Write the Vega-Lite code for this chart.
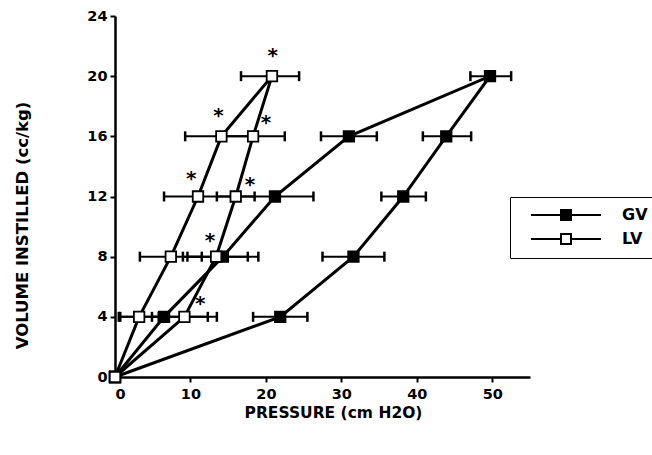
{
  "$schema": "https://vega.github.io/schema/vega-lite/v6.json",
  "width": 415,
  "height": 361,
  "autosize": {"type": "none"},
  "padding": {"left": 115, "top": 16, "right": 122, "bottom": 78},
  "background": "white",
  "config": {
    "view": {"stroke": null},
    "font": "DejaVu Sans",
    "axis": {
      "domainColor": "black", "domainWidth": 2.5, "tickColor": "black", "tickWidth": 2, "tickSize": 5,
      "labelFont": "DejaVu Sans", "labelFontWeight": "bold", "labelFontSize": 14.5, "labelColor": "black",
      "titleFont": "DejaVu Sans", "titleFontWeight": "bold", "titleColor": "black", "grid": false
    }
  },
  "datasets": {
    "pts": [
      {"series": "GV", "step": 0, "p": 0, "v": 0},
      {"series": "GV", "step": 1, "p": 21.9, "v": 4, "lo": 18.3, "hi": 25.5},
      {"series": "GV", "step": 2, "p": 31.6, "v": 8, "lo": 27.5, "hi": 35.7},
      {"series": "GV", "step": 3, "p": 38.2, "v": 12, "lo": 35.3, "hi": 41.2},
      {"series": "GV", "step": 4, "p": 43.9, "v": 16, "lo": 40.8, "hi": 47.2},
      {"series": "GV", "step": 5, "p": 49.7, "v": 20, "lo": 47.1, "hi": 52.5},
      {"series": "GV", "step": 6, "p": 31.0, "v": 16, "lo": 27.3, "hi": 34.7},
      {"series": "GV", "step": 7, "p": 21.2, "v": 12, "lo": 16.1, "hi": 26.3},
      {"series": "GV", "step": 8, "p": 14.3, "v": 8, "lo": 9.6, "hi": 19.0},
      {"series": "GV", "step": 9, "p": 6.5, "v": 4, "lo": 0.7, "hi": 12.3},
      {"series": "GV", "step": 10, "p": 0, "v": 0},
      {"series": "LV", "step": 0, "p": 0, "v": 0},
      {"series": "LV", "step": 1, "p": 9.2, "v": 4, "lo": 4.9, "hi": 13.5},
      {"series": "LV", "step": 2, "p": 13.4, "v": 8, "lo": 9.0, "hi": 17.6},
      {"series": "LV", "step": 3, "p": 16.0, "v": 12, "lo": 13.5, "hi": 18.5},
      {"series": "LV", "step": 4, "p": 18.3, "v": 16, "lo": 14.1, "hi": 22.5},
      {"series": "LV", "step": 5, "p": 20.8, "v": 20, "lo": 16.7, "hi": 24.4},
      {"series": "LV", "step": 6, "p": 14.1, "v": 16, "lo": 9.3, "hi": 18.9},
      {"series": "LV", "step": 7, "p": 11.0, "v": 12, "lo": 6.5, "hi": 15.5},
      {"series": "LV", "step": 8, "p": 7.4, "v": 8, "lo": 3.3, "hi": 11.5},
      {"series": "LV", "step": 9, "p": 3.2, "v": 4, "lo": 0.5, "hi": 5.8},
      {"series": "LV", "step": 10, "p": 0, "v": 0}
    ],
    "stars": [
      {"p": 20.9, "v": 21.4},
      {"p": 13.7, "v": 17.4},
      {"p": 20.0, "v": 16.95},
      {"p": 10.1, "v": 13.2},
      {"p": 17.9, "v": 12.8},
      {"p": 12.6, "v": 9.1},
      {"p": 11.3, "v": 4.9}
    ]
  },
  "layer": [
    {
      "data": {"name": "pts"},
      "mark": {"type": "line", "color": "black", "strokeWidth": 3},
      "encoding": {
        "x": {"field": "p", "type": "quantitative", "scale": {"domain": [0, 55], "nice": false},
          "axis": {"values": [0, 5, 10, 15, 20, 25, 30, 35, 40, 45, 50, 55],
            "labelExpr": "datum.value % 10 == 0 ? datum.label : ''",
            "title": "PRESSURE (cm H2O)", "titleFontSize": 15.5, "titleX": 218, "titleY": 35, "titleBaseline": "middle", "labelPadding": 5}},
        "y": {"field": "v", "type": "quantitative", "scale": {"domain": [0, 24], "nice": false},
          "axis": {"values": [0, 4, 8, 12, 16, 20, 24], "title": "VOLUME INSTILLED (cc/kg)", "titleFontSize": 16.5,
            "titleX": -93, "titleY": 209, "titleBaseline": "middle", "titleAngle": -90, "labelPadding": 3}},
        "detail": {"field": "series"},
        "order": {"field": "step", "type": "quantitative"}
      }
    },
    {
      "data": {"name": "pts"},
      "transform": [{"filter": "isValid(datum.lo)"}],
      "mark": {"type": "rule", "color": "black", "strokeWidth": 2},
      "encoding": {
        "x": {"field": "lo", "type": "quantitative"},
        "x2": {"field": "hi"},
        "y": {"field": "v", "type": "quantitative"}
      }
    },
    {
      "data": {"name": "pts"},
      "transform": [{"filter": "isValid(datum.lo)"}],
      "mark": {"type": "tick", "orient": "vertical", "color": "black", "size": 10, "thickness": 2.5, "opacity": 1},
      "encoding": {
        "x": {"field": "lo", "type": "quantitative"},
        "y": {"field": "v", "type": "quantitative"}
      }
    },
    {
      "data": {"name": "pts"},
      "transform": [{"filter": "isValid(datum.lo)"}],
      "mark": {"type": "tick", "orient": "vertical", "color": "black", "size": 10, "thickness": 2.5, "opacity": 1},
      "encoding": {
        "x": {"field": "hi", "type": "quantitative"},
        "y": {"field": "v", "type": "quantitative"}
      }
    },
    {
      "data": {"name": "pts"},
      "mark": {"type": "point", "shape": "square", "size": 110, "stroke": "black", "strokeWidth": 1.8, "opacity": 1, "filled": false},
      "encoding": {
        "x": {"field": "p", "type": "quantitative"},
        "y": {"field": "v", "type": "quantitative"},
        "fill": {"field": "series", "type": "nominal",
          "scale": {"domain": ["GV", "LV"], "range": ["black", "white"]},
          "legend": {"title": null, "orient": "none", "legendX": 395, "legendY": 181,
            "strokeColor": "black", "padding": 10, "fillColor": "white",
            "symbolType": "M-7,0H-1M1,0H7M-1,-1H1V1H-1Z", "symbolSize": 100,
            "symbolStrokeColor": "black", "symbolStrokeWidth": 2, "symbolOffset": 38,
            "labelOffset": 48, "labelFont": "DejaVu Sans", "labelFontWeight": "bold", "labelFontSize": 16,
            "labelColor": "black", "rowPadding": 6}
        }
      }
    },
    {
      "data": {"name": "stars"},
      "mark": {"type": "text", "text": "*", "fontSize": 20, "fontWeight": "bold", "font": "DejaVu Sans", "color": "black", "baseline": "middle", "dy": 1},
      "encoding": {
        "x": {"field": "p", "type": "quantitative"},
        "y": {"field": "v", "type": "quantitative"}
      }
    }
  ]
}
